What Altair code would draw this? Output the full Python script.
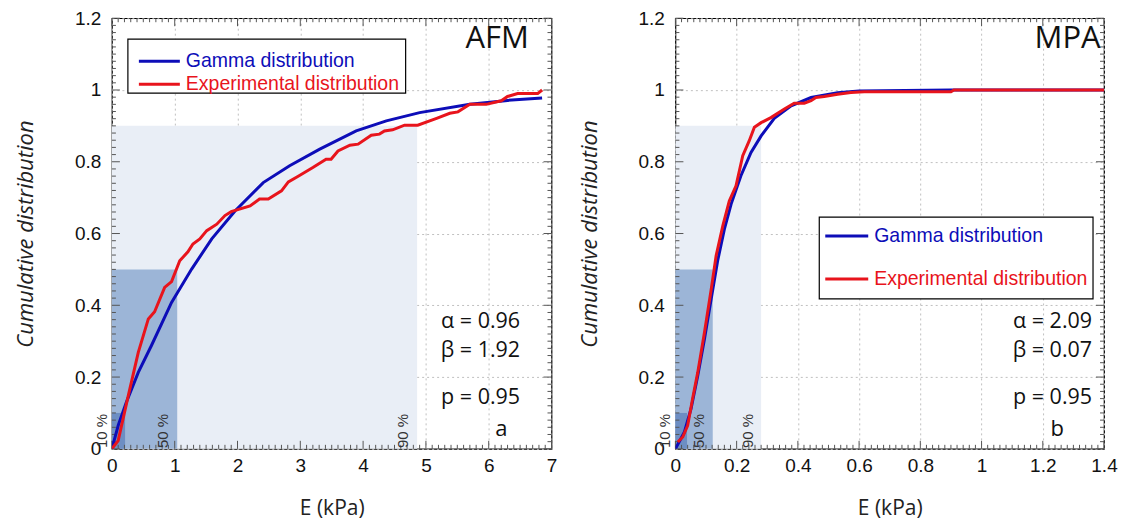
import altair as alt
import pandas as pd
import numpy as np

SERIES = ["Gamma distribution", "Experimental distribution"]
BLUE = "#0d0db8"
RED = "#e8141c"
RECT_COLORS = ["#e9eef6", "#9cb5d7", "#6d8ec3"]  # 90 %, 50 %, 10 %
QUANT_LABELS = ["90 %", "50 %", "10 %"]
QUANT_LEVELS = [0.9, 0.5, 0.1]

# ---------------- Panel a : AFM ----------------
afm_gamma_x = [0, 0.10, 0.23, 0.42, 0.63, 0.95, 1.27, 1.59, 1.96, 2.41, 2.83, 3.31,
               3.89, 4.37, 4.90, 5.70, 6.30, 6.85]
afm_gamma_y = [0, 0.065, 0.13, 0.213, 0.288, 0.408, 0.501, 0.585, 0.663, 0.742, 0.789,
               0.835, 0.886, 0.914, 0.937, 0.960, 0.971, 0.978]
afm_exp_x = [0, 0.10, 0.25, 0.42, 0.58, 0.68, 0.84, 0.95, 1.08, 1.21, 1.29, 1.40, 1.51,
             1.67, 1.80, 1.90, 2.20, 2.35, 2.49, 2.70, 2.81, 2.96, 3.20, 3.41, 3.49,
             3.60, 3.79, 3.92, 4.13, 4.26, 4.34, 4.47, 4.66, 4.87, 5.17, 5.38, 5.51,
             5.70, 5.96, 6.20, 6.30, 6.46, 6.70, 6.78, 6.85]
afm_exp_y = [0, 0.023, 0.14, 0.269, 0.362, 0.382, 0.450, 0.466, 0.524, 0.549, 0.571,
             0.585, 0.608, 0.626, 0.650, 0.661, 0.677, 0.696, 0.696, 0.719, 0.744,
             0.759, 0.784, 0.807, 0.807, 0.830, 0.846, 0.849, 0.874, 0.877, 0.886,
             0.889, 0.902, 0.902, 0.921, 0.935, 0.939, 0.960, 0.960, 0.970, 0.982,
             0.990, 0.990, 0.990, 1.0]
afm_quant_x = [4.86, 1.04, 0.21]
afm_qlabel_x = [4.63, 0.81, -0.15]
afm_ticks = [0, 1, 2, 3, 4, 5, 6, 7]
afm_params = ["α = 0.96", "β = 1.92", "p = 0.95"]

# ---------------- Panel b : MPA ----------------
mpa_gamma_x = [0, 0.029, 0.051, 0.073, 0.095, 0.117, 0.138, 0.160, 0.182, 0.214, 0.247,
               0.280, 0.323, 0.378, 0.443, 0.530, 0.60, 0.90, 1.40]
mpa_gamma_y = [0, 0.046, 0.111, 0.204, 0.306, 0.418, 0.524, 0.612, 0.682, 0.761, 0.826,
               0.872, 0.921, 0.956, 0.979, 0.992, 0.997, 1.0, 1.0]
mpa_exp_x = [0.008, 0.024, 0.040, 0.056, 0.073, 0.095, 0.117, 0.133, 0.155, 0.176, 0.198,
             0.220, 0.241, 0.258, 0.280, 0.312, 0.356, 0.388, 0.421, 0.443, 0.459,
             0.486, 0.530, 0.573, 0.617, 0.90, 0.91, 1.40]
mpa_exp_y = [0.019, 0.033, 0.065, 0.139, 0.213, 0.325, 0.445, 0.538, 0.622, 0.691, 0.733,
             0.817, 0.858, 0.896, 0.909, 0.923, 0.947, 0.963, 0.963, 0.970, 0.979,
             0.982, 0.988, 0.993, 0.995, 0.995, 1.0, 1.0]
mpa_quant_x = [0.28, 0.122, 0.038]
mpa_qlabel_x = [0.236, 0.076, -0.034]
mpa_ticks = [0, 0.2, 0.4, 0.6, 0.8, 1, 1.2, 1.4]
mpa_params = ["α = 2.09", "β = 0.07", "p = 0.95"]

Y_TICKS = [0, 0.2, 0.4, 0.6, 0.8, 1, 1.2]
YMAX = 1.2
H = 431

TXT_FONT = "Open Sans"
NUM_FONT = "Liberation Sans"


def make_panel(gx, gy, ex, ey, xmax, xticks, xminor, qx, qlx, params, name, letter,
               W, legend_box, legend_rows, ann_x, letter_x):
    sx = alt.Scale(domain=[0, xmax], nice=False, zero=False)
    sy = alt.Scale(domain=[0, YMAX], nice=False, zero=False)
    xaxis = alt.Axis(values=xticks, format="~g", title="E (kPa)", labelFlush=False,
                     labelFont=NUM_FONT, labelFontSize=19, labelColor="#111",
                     labelPadding=8, titleFont=TXT_FONT, titleFontSize=21,
                     titleFontWeight="normal", titleColor="#222", titlePadding=22,
                     ticks=False, tickSize=0, domain=False, grid=True,
                     gridDash=[2, 3], gridColor="#c0c0c0", labelOverlap=False)
    yaxis = alt.Axis(values=Y_TICKS, format="~g", title="Cumulative distribution",
                     labelFont=NUM_FONT, labelFontSize=19, labelColor="#111",
                     labelPadding=11, titleFont=TXT_FONT, titleFontSize=22,
                     titleFontWeight="normal", titleFontStyle="italic",
                     titleColor="#222", titlePadding=37, ticks=False, tickSize=0,
                     domain=False, grid=True, gridDash=[2, 3], gridColor="#c0c0c0",
                     labelOverlap=False)

    def X(f):
        return alt.X(f, type="quantitative", scale=sx, axis=xaxis)

    def Y(f):
        return alt.Y(f, type="quantitative", scale=sy, axis=yaxis)

    rect_df = pd.DataFrame({"x0": [0.0] * 3, "x1": qx, "y0": [0.0] * 3,
                            "y1": QUANT_LEVELS, "c": RECT_COLORS})
    rects = alt.Chart(rect_df).mark_rect().encode(
        x=X("x0"), x2="x1", y=Y("y0"), y2="y1",
        color=alt.Color("c:N", scale=None))

    # inward axis ticks (frame decoration)
    ppx = W / xmax
    ppy = H / YMAX
    rows = []
    for v in np.round(np.arange(0, xmax + 1e-9, xminor), 6):
        major = any(abs(v - t) < 1e-6 for t in xticks)
        L = (8 if major else 4) / ppy
        rows.append((v, v, 0, L))
        rows.append((v, v, YMAX, YMAX - L))
    for v in np.round(np.arange(0, YMAX + 1e-9, 0.02), 6):
        major = any(abs(v - t) < 1e-6 for t in Y_TICKS)
        L = (8 if major else 4) / ppx
        rows.append((0, L, v, v))
        rows.append((xmax, xmax - L, v, v))
    tick_df = pd.DataFrame(rows, columns=["a", "b", "c", "d"])
    ticks = alt.Chart(tick_df).mark_rule(color="#555", strokeWidth=1).encode(
        x=X("a"), x2="b", y=Y("c"), y2="d")

    gdf = pd.DataFrame({"x": gx, "y": gy})
    edf = pd.DataFrame({"x": ex, "y": ey})
    gline = alt.Chart(gdf).mark_line(color=BLUE, strokeWidth=3, clip=True).encode(
        x=X("x"), y=Y("y"))
    eline = alt.Chart(edf).mark_line(color=RED, strokeWidth=3, clip=True).encode(
        x=X("x"), y=Y("y"))

    qdf = pd.DataFrame({"x": qlx, "y": [0.05] * 3, "t": QUANT_LABELS})
    qtext = alt.Chart(qdf).mark_text(angle=270, font=NUM_FONT, fontSize=15,
                                     color="#333", align="center",
                                     baseline="middle").encode(
        x=X("x"), y=Y("y"), text="t:N")

    pdf = pd.DataFrame({"x": [ann_x] * 3, "y": [0.354, 0.273, 0.141], "t": params})
    ptext = alt.Chart(pdf).mark_text(font=TXT_FONT, fontSize=21.5, color="#111",
                                     align="right", baseline="middle").encode(
        x=X("x"), y=Y("y"), text="t:N")
    ldf = pd.DataFrame({"x": [letter_x], "y": [0.056], "t": [letter]})
    ltext = alt.Chart(ldf).mark_text(font=TXT_FONT, fontSize=22, color="#111",
                                     align="center", baseline="middle").encode(
        x=X("x"), y=Y("y"), text="t:N")
    ndf = pd.DataFrame({"x": [ann_x + (0.02 * xmax)], "y": [1.142], "t": [name]})
    ntext = alt.Chart(ndf).mark_text(font=TXT_FONT, fontSize=31, color="#111",
                                     align="right", baseline="middle").encode(
        x=X("x"), y=Y("y"), text="t:N")

    # legend drawn as marks
    bx0, by0, bx1, by1 = legend_box
    box = alt.Chart(pd.DataFrame({"k": [0]})).mark_rect(
        fill="white", stroke="black", strokeWidth=1.2).encode(
        x=alt.value(bx0), x2=alt.value(bx1), y=alt.value(by0), y2=alt.value(by1))
    leg_layers = [box]
    for (lx0, lx1, tx, ly), label, col in zip(legend_rows, SERIES, [BLUE, RED]):
        leg_layers.append(alt.Chart(pd.DataFrame({"k": [0]})).mark_rule(
            color=col, strokeWidth=3).encode(
            x=alt.value(lx0), x2=alt.value(lx1), y=alt.value(ly)))
        leg_layers.append(alt.Chart(pd.DataFrame({"t": [label]})).mark_text(
            font=NUM_FONT, fontSize=19.5, color=col, align="left",
            baseline="middle").encode(
            x=alt.value(tx), y=alt.value(ly), text="t:N"))

    return alt.layer(rects, ticks, gline, eline, qtext, ptext, ltext, ntext,
                     *leg_layers).properties(width=W, height=H)


left = make_panel(afm_gamma_x, afm_gamma_y, afm_exp_x, afm_exp_y, 7, afm_ticks, 0.1,
                  afm_quant_x, afm_qlabel_x, afm_params, "AFM", "a", 440,
                  (16, 21, 294, 75), [(27, 68, 74, 43), (27, 68, 74, 66)], 6.5, 6.2)
right = make_panel(mpa_gamma_x, mpa_gamma_y, mpa_exp_x, mpa_exp_y, 1.4, mpa_ticks, 0.02,
                   mpa_quant_x, mpa_qlabel_x, mpa_params, "MPA", "b", 429,
                   (144, 199, 418, 281), [(150, 193, 199, 218), (150, 193, 199, 261)],
                   1.361, 1.247)

chart = alt.hconcat(left, right, spacing=19).properties(
    padding={"left": 5, "top": 0, "right": 0, "bottom": 0}
).configure_view(stroke="black", strokeWidth=1.2)

chart.save("out.html", embed_options={"renderer": "svg", "actions": False})
